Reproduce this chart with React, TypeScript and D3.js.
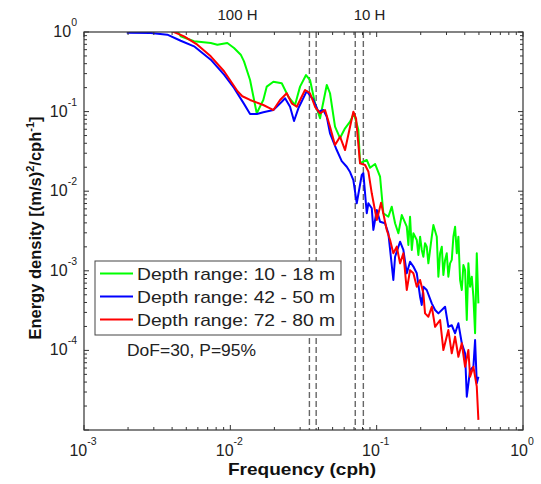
import React from "react";
import * as d3 from "d3";

// ---- data (frequency in cph, energy density) ----
const freqGreen = [0.00196, 0.00439, 0.00458, 0.00565, 0.00735, 0.00815, 0.00954, 0.0106, 0.01178, 0.0124, 0.01364, 0.01515, 0.0168, 0.01774, 0.01968, 0.02246, 0.02491, 0.02768, 0.02995, 0.03291, 0.03505, 0.03792, 0.04103, 0.0456, 0.048, 0.05193, 0.05619, 0.06081, 0.06579, 0.06995, 0.07497, 0.077, 0.08556, 0.09014, 0.0975, 0.1055, 0.1111, 0.1202, 0.1268, 0.1336, 0.1407, 0.1485, 0.1606, 0.1647, 0.1691, 0.1738, 0.1782, 0.188, 0.1928, 0.198, 0.2033, 0.2085, 0.2141, 0.2199, 0.2256, 0.238, 0.2441, 0.2575, 0.2641, 0.2713, 0.2786, 0.2857, 0.2934, 0.3013, 0.309, 0.3174, 0.326, 0.3344, 0.3435, 0.3528, 0.3618, 0.3716, 0.3817, 0.3914, 0.4019, 0.4129, 0.4234, 0.4349, 0.4467, 0.4581, 0.4705, 0.4832, 0.4956];
const energyGreen = [1.8, 1.0, 0.883, 0.764, 0.727, 0.693, 0.727, 0.63, 0.519, 0.428, 0.249, 0.0952, 0.14, 0.206, 0.237, 0.227, 0.154, 0.121, 0.206, 0.288, 0.249, 0.127, 0.0824, 0.216, 0.17, 0.0646, 0.0465, 0.0617, 0.0746, 0.0952, 0.0587, 0.0225, 0.0247, 0.0197, 0.022, 0.0152, 0.00528, 0.00478, 0.00639, 0.00395, 0.00296, 0.00502, 0.00358, 0.00211, 0.00478, 0.00183, 0.00296, 0.00244, 0.00158, 0.00268, 0.00183, 0.0015, 0.00222, 0.00201, 0.00124, 0.00268, 0.00376, 0.00268, 0.000843, 0.00166, 0.00201, 0.000886, 0.00137, 0.00166, 0.000843, 0.00124, 0.00137, 0.00268, 0.00358, 0.00166, 0.00268, 0.000766, 0.000574, 0.00118, 0.00102, 0.000241, 0.00124, 0.000631, 0.000843, 0.000473, 0.000164, 0.00166, 0.00039];

const freqBlue = [0.00196, 0.00286, 0.00371, 0.00458, 0.00565, 0.00735, 0.00906, 0.0106, 0.0124, 0.01364, 0.0152, 0.0168, 0.01968, 0.02246, 0.02366, 0.02559, 0.02725, 0.02916, 0.03328, 0.03692, 0.03995, 0.04322, 0.0456, 0.048, 0.05335, 0.05771, 0.06246, 0.06579, 0.06929, 0.07311, 0.07908, 0.08111, 0.08556, 0.08776, 0.09258, 0.09493, 0.1002, 0.1055, 0.1141, 0.1202, 0.13, 0.1336, 0.1445, 0.1522, 0.1606, 0.1691, 0.1782, 0.188, 0.198, 0.2033, 0.2085, 0.2199, 0.238, 0.2507, 0.2641, 0.2934, 0.309, 0.326, 0.3435, 0.3618, 0.3817, 0.4019, 0.4129, 0.4349, 0.4581, 0.4705, 0.4832, 0.4956];
const energyBlue = [0.98, 0.971, 0.925, 0.777, 0.661, 0.449, 0.291, 0.198, 0.125, 0.0933, 0.0933, 0.098, 0.1047, 0.133, 0.147, 0.115, 0.0762, 0.11, 0.181, 0.14, 0.0997, 0.1047, 0.0863, 0.0534, 0.0329, 0.0239, 0.0203, 0.0174, 0.0138, 0.00705, 0.016, 0.0168, 0.00528, 0.00705, 0.0061, 0.00326, 0.0058, 0.00414, 0.00395, 0.00296, 0.000766, 0.0015, 0.00232, 0.00183, 0.00093, 0.0013, 0.00113, 0.00093, 0.000473, 0.000372, 0.000631, 0.000574, 0.00039, 0.000322, 0.000292, 0.000354, 0.000198, 0.000207, 0.000164, 0.000219, 0.000123, 0.0000919, 0.0000262, 0.0000567, 0.0000624, 0.000135, 0.0000386, 0.0000467];

const freqRed = [0.00196, 0.00412, 0.00483, 0.00595, 0.00735, 0.00906, 0.0112, 0.01208, 0.01364, 0.0168, 0.01868, 0.01968, 0.02187, 0.02429, 0.02628, 0.02844, 0.0324, 0.03505, 0.03792, 0.04103, 0.04439, 0.048, 0.05193, 0.05619, 0.06081, 0.06579, 0.06929, 0.07229, 0.077, 0.08331, 0.08776, 0.09258, 0.1002, 0.1072, 0.1172, 0.1235, 0.13, 0.1372, 0.1445, 0.1522, 0.1606, 0.1691, 0.1782, 0.188, 0.198, 0.2085, 0.2141, 0.2256, 0.238, 0.2507, 0.2713, 0.2857, 0.309, 0.326, 0.3435, 0.3618, 0.3817, 0.4019, 0.4234, 0.4349, 0.4581, 0.4832, 0.4956];
const energyRed = [1.6, 1.0, 0.883, 0.693, 0.495, 0.321, 0.18, 0.156, 0.14, 0.121, 0.11, 0.1047, 0.14, 0.17, 0.127, 0.115, 0.187, 0.17, 0.115, 0.0952, 0.1047, 0.0646, 0.0381, 0.0484, 0.0329, 0.0646, 0.0997, 0.0824, 0.0224, 0.0213, 0.0177, 0.00941, 0.00435, 0.00717, 0.00326, 0.00244, 0.00166, 0.00201, 0.00124, 0.00166, 0.000574, 0.00102, 0.00093, 0.000631, 0.000766, 0.000522, 0.000292, 0.000265, 0.000354, 0.000198, 0.000241, 0.000101, 0.00018, 0.0000919, 0.000149, 0.0000833, 0.000123, 0.0000624, 0.000101, 0.0000467, 0.0000624, 0.000035, 0.0000134];

const seriesLabels = ["Depth range: 10 - 18 m", "Depth range: 42 - 50 m", "Depth range: 72 - 80 m"];
const seriesColors = ["#00ff00", "#0000ff", "#ff0000"];

const dashedFreqs = [0.0347, 0.0386, 0.0714, 0.0811];
const periodLabels = ["100 H", "10 H"];
const periodLabelFreqs = [0.0112, 0.0894];

const xTickExps = [-3, -2, -1, 0];
const yTickExps = [0, -1, -2, -3, -4];

const W = 541, H = 484;
const L = 84, R = 523, T = 32, B = 430;

export default function App() {
  const x = d3.scaleLog().domain([1e-3, 1]).range([L, R]);
  const y = d3.scaleLog().domain([1e-5, 1]).range([B, T]);
  const line = d3.line<[number, number]>().x(d => x(d[0])).y(d => y(d[1]));

  const series = [
    { f: freqGreen, e: energyGreen },
    { f: freqBlue, e: energyBlue },
    { f: freqRed, e: energyRed },
  ];

  const axisColor = "#333";
  const font = "'Liberation Sans', Arial, sans-serif";

  const xMinor: number[] = [];
  for (let k = -3; k < 0; k++) for (let m = 2; m <= 9; m++) xMinor.push(m * Math.pow(10, k));
  const yMinor: number[] = [];
  for (let k = -5; k < 0; k++) for (let m = 2; m <= 9; m++) yMinor.push(m * Math.pow(10, k));
  const xMajor = xTickExps.map(e => Math.pow(10, e));
  const yMajor = [-5, -4, -3, -2, -1, 0].map(e => Math.pow(10, e));

  const maj = 5, min = 3;

  return (
    <svg width={W} height={H} style={{ position: "absolute", left: 0, top: 0, background: "#fff" }} fontFamily={font}>
      <defs>
        <clipPath id="plotClip">
          <rect x={L} y={T} width={R - L} height={B - T} />
        </clipPath>
      </defs>
      <rect x={0} y={0} width={W} height={H} fill="#fff" />

      {dashedFreqs.map((f, i) => (
        <line key={"d" + i} x1={x(f)} x2={x(f)} y1={T} y2={B} stroke="#666" strokeWidth={1.4} strokeDasharray="6,3" />
      ))}

      <g clipPath="url(#plotClip)">
        {series.map((s, i) => (
          <path key={"s" + i}
            d={line(s.f.map((f, j) => [f, s.e[j]] as [number, number])) || ""}
            fill="none" stroke={seriesColors[i]} strokeWidth={2} strokeLinejoin="round" />
        ))}
      </g>

      <g stroke={axisColor} strokeWidth={1}>
        {xMajor.map((v, i) => (
          <g key={"xM" + i}>
            <line x1={x(v)} x2={x(v)} y1={B} y2={B - maj} />
            <line x1={x(v)} x2={x(v)} y1={T} y2={T + maj} />
          </g>
        ))}
        {xMinor.map((v, i) => (
          <g key={"xm" + i}>
            <line x1={x(v)} x2={x(v)} y1={B} y2={B - min} />
            <line x1={x(v)} x2={x(v)} y1={T} y2={T + min} />
          </g>
        ))}
        {yMajor.map((v, i) => (
          <g key={"yM" + i}>
            <line x1={L} x2={L + maj} y1={y(v)} y2={y(v)} />
            <line x1={R} x2={R - maj} y1={y(v)} y2={y(v)} />
          </g>
        ))}
        {yMinor.map((v, i) => (
          <g key={"ym" + i}>
            <line x1={L} x2={L + min} y1={y(v)} y2={y(v)} />
            <line x1={R} x2={R - min} y1={y(v)} y2={y(v)} />
          </g>
        ))}
      </g>

      <rect x={L} y={T} width={R - L} height={B - T} fill="none" stroke={axisColor} strokeWidth={1.2} />

      {xTickExps.map((e, i) => (
        <text key={"xl" + i} x={x(Math.pow(10, e)) - 1} y={456} textAnchor="middle" fontSize={16} fill="#222">
          <tspan>10</tspan>
          <tspan dy={-11} fontSize={10.5}>{String(e)}</tspan>
        </text>
      ))}

      {yTickExps.map((e, i) => (
        <text key={"yl" + i} x={77} y={y(Math.pow(10, e)) + 5} textAnchor="end" fontSize={16} fill="#222">
          <tspan>10</tspan>
          <tspan dy={-11} fontSize={10.5}>{String(e)}</tspan>
        </text>
      ))}

      {periodLabels.map((t, i) => (
        <text key={"pl" + i} x={x(periodLabelFreqs[i])} y={20} textAnchor="middle" fontSize={15} fill="#222">{t}</text>
      ))}

      <text x={302} y={475} textAnchor="middle" fontSize={16.5} fontWeight="bold" fill="#111" textLength={148} lengthAdjust="spacingAndGlyphs">Frequency (cph)</text>
      <text transform="translate(41,228) rotate(-90)" textAnchor="middle" fontSize={16.5} fontWeight="bold" fill="#111">
        <tspan>Energy density [(m/s)</tspan>
        <tspan dy={-7} fontSize={11}>2</tspan>
        <tspan dy={7}>/cph</tspan>
        <tspan dy={-7} fontSize={11}>-1</tspan>
        <tspan dy={7}>]</tspan>
      </text>

      <rect x={95} y={261} width={246} height={74} fill="#fff" stroke="#444" strokeWidth={1} />
      {seriesLabels.map((t, i) => (
        <g key={"lg" + i}>
          <line x1={100} x2={133} y1={273.5 + i * 23} y2={273.5 + i * 23} stroke={seriesColors[i]} strokeWidth={2} />
          <text x={137} y={279.5 + i * 23} fontSize={17} fill="#222" textLength={198} lengthAdjust="spacingAndGlyphs">{t}</text>
        </g>
      ))}

      <text x={127} y={356} fontSize={16} fill="#222" textLength={129} lengthAdjust="spacingAndGlyphs">DoF=30, P=95%</text>
    </svg>
  );
}
